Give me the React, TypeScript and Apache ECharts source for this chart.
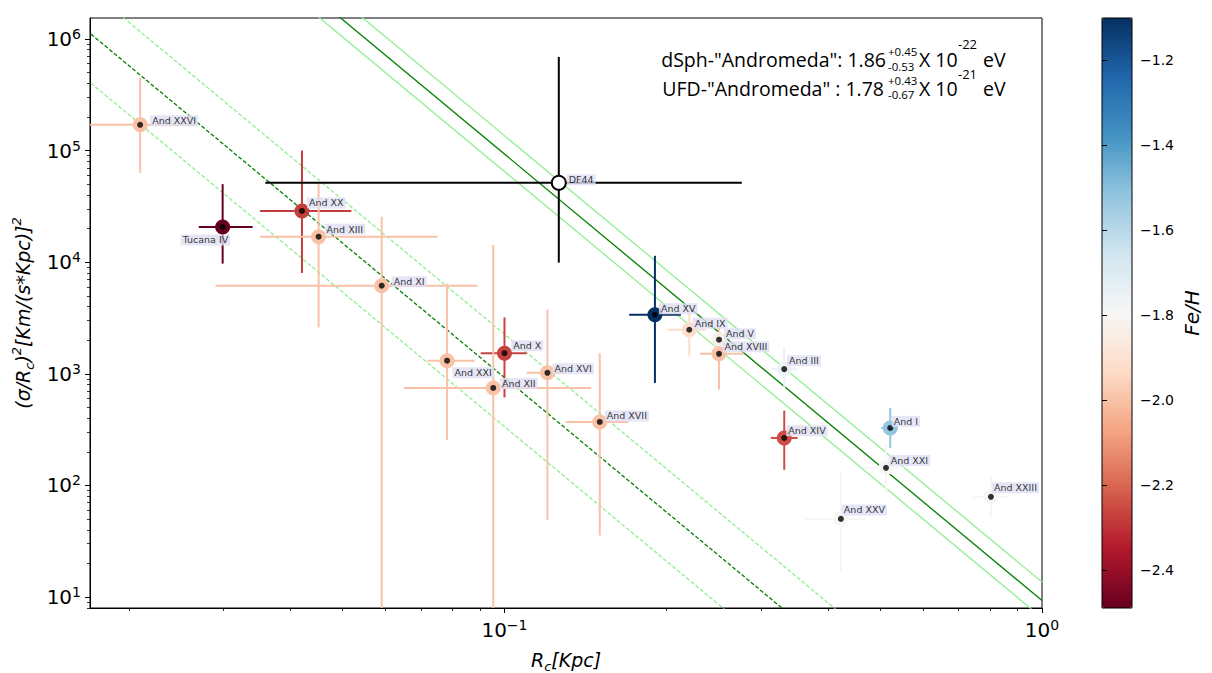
import React, { useEffect, useRef } from 'react';
import * as echarts from 'echarts';

// ---------- data ----------
const names = ['And XXVI', 'Tucana IV', 'And XX', 'And XIII', 'And XI', 'And XXI', 'And X', 'And XII', 'And XVI', 'And XVII', 'DF44', 'And XV', 'And IX', 'And V', 'And XVIII', 'And III', 'And XIV', 'And I', 'And XXI', 'And XXV', 'And XXIII'];
const rc = [0.0210, 0.0299, 0.0420, 0.0451, 0.0591, 0.0782, 0.1000, 0.0953, 0.1202, 0.1504, 0.1262, 0.1905, 0.2207, 0.2507, 0.2507, 0.3315, 0.3315, 0.5220, 0.5126, 0.4225, 0.8036];
const rcLo = [0.0152, 0.0270, 0.0351, 0.0351, 0.0290, 0.0719, 0.0903, 0.0650, 0.1100, 0.1300, 0.0359, 0.1706, 0.2010, 0.2430, 0.2310, 0.3130, 0.3130, 0.5020, 0.4637, 0.3626, 0.7461];
const rcHi = [0.0267, 0.0340, 0.0519, 0.0750, 0.0890, 0.0880, 0.1100, 0.1450, 0.1300, 0.1700, 0.2764, 0.2130, 0.2370, 0.2590, 0.2790, 0.3510, 0.3510, 0.5390, 0.5540, 0.4705, 0.8634];
const sig = [1.70e5, 2.07e4, 2.88e4, 1.69e4, 6.15e3, 1.31e3, 1.53e3, 747, 1.02e3, 370, 5.14e4, 3.38e3, 2.48e3, 2.02e3, 1.51e3, 1.10e3, 266, 327, 143.6, 50.1, 78.9];
const sigLo = [6.3e4, 9.7e3, 8.0e3, 2.6e3, 1.0, 254, 615, 1.0, 49, 35.6, 9.9e3, 828, 1.43e3, 1.7e3, 721, 747, 138, 217, 85.7, 16.5, 51.2];
const sigHi = [4.5e5, 5.0e4, 1.0e5, 5.0e4, 2.55e4, 6.4e3, 3.2e3, 1.43e4, 3.75e3, 1.53e3, 6.9e5, 1.14e4, 4.0e3, 2.45e3, 2.6e3, 1.74e3, 468, 494, 232, 133.6, 121];
const feh: (number | null)[] = [-2.0, -2.49, -2.28, -2.0, -2.0, -2.0, -2.27, -2.0, -2.0, -2.0, null, -1.10, -1.92, -1.84, -2.0, -1.75, -2.25, -1.52, -1.79, -1.80, -1.80];

// fitted lines (two points each)
const dsphFit = [[0.03, 1.148e7], [1.0, 9.3]];
const dsphUp = [[0.03, 1.679e7], [1.0, 13.6]];
const dsphLow = [[0.03, 8.02e6], [1.0, 6.5]];
const ufdFit = [[0.017, 1.106e6], [0.5, 1.48]];
const ufdUp = [[0.017, 2.705e6], [0.5, 3.62]];
const ufdLow = [[0.017, 4.02e5], [0.5, 0.538]];

// ticks
const xMajor = [0.1, 1];
const xMinor = [0.02, 0.03, 0.04, 0.05, 0.06, 0.07, 0.08, 0.09, 0.2, 0.3, 0.4, 0.5, 0.6, 0.7, 0.8, 0.9];
const yMajor = [10, 100, 1000, 1e4, 1e5, 1e6];
const yMinor = [8, 9, 20, 30, 40, 50, 60, 70, 80, 90, 200, 300, 400, 500, 600, 700, 800, 900, 2000, 3000, 4000, 5000, 6000, 7000, 8000, 9000, 2e4, 3e4, 4e4, 5e4, 6e4, 7e4, 8e4, 9e4, 2e5, 3e5, 4e5, 5e5, 6e5, 7e5, 8e5, 9e5];
const cbTicks = [-2.4, -2.2, -2.0, -1.8, -1.6, -1.4, -1.2];

// ---------- layout / style ----------
const labelOffset: number[][] = [[10, -4], [-42, 13], [5, -8], [6, -7.5], [10, -4], [5.4, 12], [6.7, -7.5], [6.7, -4.3], [5, -4], [5, -6], [8, -3], [4, -6], [3.4, -6.5], [5, -6], [3.4, -7], [2.7, -8.3], [2, -7.3], [1.4, -6.6], [2.7, -7.3], [1, -9], [1, -9]];
const RDBU = ['#67001f', '#b2182b', '#d6604d', '#f4a582', '#fddbc7', '#f7f7f7', '#d1e5f0', '#92c5de', '#4393c3', '#2166ac', '#053061'];
const FEH_MIN = -2.49;
const FEH_MAX = -1.10;
const G = { left: 90, top: 18, width: 952, height: 590 };
const CB = { left: 1102, top: 18, width: 30, height: 590 };
const FONT = 'DejaVu Sans';
const DOT = 6;

const powLabel = (v: number) => {
  const e = Math.round(Math.log10(v));
  return `{b|10}{s|${e < 0 ? '\u2212' + (-e) : e}}`;
};
const tickRich = {
  b: { fontSize: 20, lineHeight: 24, fontFamily: FONT, color: '#000' },
  s: { fontSize: 14, lineHeight: 14, verticalAlign: 'top', fontFamily: FONT, color: '#000' },
};
const nameRich = {
  sub: { fontSize: 13, lineHeight: 13, verticalAlign: 'bottom', fontStyle: 'italic', fontFamily: FONT, color: '#000' },
  sup: { fontSize: 13, lineHeight: 13, verticalAlign: 'top', fontFamily: FONT, color: '#000' },
};

const txt = (text: string, x: number, y: number, size: number, align = 'left') => ({
  type: 'text',
  x,
  y,
  z: 50,
  style: {
    text,
    fontSize: size,
    fontFamily: 'Open Sans',
    fill: '#000',
    align,
    textAlign: align,
    verticalAlign: 'middle',
    textVerticalAlign: 'middle',
  },
});

export default function App() {
  const ref = useRef<HTMLDivElement>(null);
  useEffect(() => {
    const chart = echarts.init(ref.current!, null, { renderer: 'svg' });
    const idx = names.map((_, i) => i);
    const colored = idx.filter((i) => feh[i] !== null);
    const plain = idx.filter((i) => feh[i] === null);
    const errData = colored.map((i) => [rc[i], sig[i], feh[i], rcLo[i], rcHi[i], sigLo[i], sigHi[i]]);
    const errPlain = plain.map((i) => [rc[i], sig[i], 0, rcLo[i], rcHi[i], sigLo[i], sigHi[i]]);
    const circleData = colored.map((i) => [rc[i], sig[i], feh[i]]);
    const plainCircle = plain.map((i) => [rc[i], sig[i]]);
    const dotData = idx.map((i) => ({
      name: names[i],
      value: [rc[i], sig[i]],
      itemStyle: feh[i] === null ? { color: 'rgba(0,0,0,0)' } : { color: '#000' },
      label: { position: [DOT / 2 + labelOffset[i][0], DOT / 2 + labelOffset[i][1]] },
    }));

    const renderErr = (params: any, api: any) => {
      const x = api.value(0);
      const y = api.value(1);
      const c = api.coord([x, y]);
      const l = api.coord([api.value(3), y]);
      const r = api.coord([api.value(4), y]);
      const b = api.coord([x, api.value(5)]);
      const t = api.coord([x, api.value(6)]);
      const color = api.visual('color');
      return {
        type: 'group',
        children: [
          { type: 'line', shape: { x1: l[0], y1: c[1], x2: r[0], y2: c[1] }, style: { stroke: color, lineWidth: 2 } },
          { type: 'line', shape: { x1: c[0], y1: t[1], x2: c[0], y2: b[1] }, style: { stroke: color, lineWidth: 2 } },
        ],
      };
    };

    const fitLine = (data: number[][], color: string, dashed: boolean) => ({
      type: 'line',
      xAxisIndex: 0,
      yAxisIndex: 0,
      data,
      symbol: 'none',
      clip: true,
      z: 1,
      silent: true,
      lineStyle: { color, width: 1.3, type: dashed ? [4, 2] : 'solid' },
    });

    const option: any = {
      animation: false,
      backgroundColor: '#fff',
      grid: [
        { ...G, show: true, borderColor: '#000', borderWidth: 1, backgroundColor: 'transparent', containLabel: false, outerBoundsMode: 'none' },
        { ...CB, show: false, containLabel: false, outerBoundsMode: 'none' },
      ],
      xAxis: [
        {
          gridIndex: 0, type: 'log', logBase: 10, min: 0.01694, max: 1, position: 'bottom',
          axisLine: { show: true, lineStyle: { color: '#000', width: 1 } },
          axisTick: { show: true, inside: false, length: 5, customValues: xMajor, lineStyle: { color: '#000', width: 1 } },
          axisLabel: { show: true, customValues: xMajor, formatter: powLabel, rich: tickRich, margin: 10 },
          splitLine: { show: false },
          name: 'R{sub|c}[Kpc]', nameLocation: 'middle', nameGap: 39,
          nameTextStyle: { fontSize: 19, fontStyle: 'italic', fontFamily: FONT, color: '#000', lineHeight: 26, rich: nameRich },
        },
        {
          gridIndex: 0, type: 'log', logBase: 10, min: 0.01694, max: 1, position: 'bottom',
          axisLine: { show: false },
          axisTick: { show: true, inside: false, length: 3, customValues: xMinor, lineStyle: { color: '#000', width: 0.8 } },
          axisLabel: { show: false },
          splitLine: { show: false },
        },
        { gridIndex: 1, type: 'value', show: false, min: 0, max: 1 },
      ],
      yAxis: [
        {
          gridIndex: 0, type: 'log', logBase: 10, min: 7.97, max: 1.54e6, position: 'left',
          axisLine: { show: true, lineStyle: { color: '#000', width: 1 } },
          axisTick: { show: true, inside: false, length: 5, customValues: yMajor, lineStyle: { color: '#000', width: 1 } },
          axisLabel: { show: true, customValues: yMajor, formatter: powLabel, rich: tickRich, margin: 9 },
          splitLine: { show: false },
          name: '(σ/R{sub|c}){sup|2}[Km/(s*Kpc)]{sup|2}', nameLocation: 'middle', nameGap: 50, nameRotate: 90,
          nameTextStyle: { fontSize: 19, fontStyle: 'italic', fontFamily: FONT, color: '#000', lineHeight: 26, rich: nameRich },
        },
        {
          gridIndex: 0, type: 'log', logBase: 10, min: 7.97, max: 1.54e6, position: 'left',
          axisLine: { show: false },
          axisTick: { show: true, inside: false, length: 3, customValues: yMinor, lineStyle: { color: '#000', width: 0.8 } },
          axisLabel: { show: false },
          splitLine: { show: false },
        },
        {
          gridIndex: 1, type: 'value', min: FEH_MIN, max: FEH_MAX, position: 'right', z: 10,
          axisLine: { show: false },
          axisTick: { show: true, inside: false, length: 5, customValues: cbTicks, lineStyle: { color: '#000', width: 1 } },
          axisLabel: {
            show: true, customValues: cbTicks, margin: 8, fontSize: 14, fontFamily: FONT, color: '#000',
            formatter: (v: number) => v.toFixed(1).replace('-', '\u2212'),
          },
          splitLine: { show: false },
          name: 'Fe/H', nameLocation: 'middle', nameGap: 50, nameRotate: 90,
          nameTextStyle: { fontSize: 20, fontStyle: 'italic', fontFamily: FONT, color: '#000' },
        },
      ],
      visualMap: [
        {
          type: 'continuous', min: FEH_MIN, max: FEH_MAX, dimension: 2, seriesIndex: [6, 8],
          calculable: false, hoverLink: false, orient: 'vertical',
          left: CB.left, top: CB.top, itemWidth: CB.width, itemHeight: CB.height, padding: 0,
          text: null, showLabel: false,
          inRange: { color: RDBU },
        },
      ],
      graphic: [
        { type: 'rect', z: 60, shape: { x: CB.left, y: CB.top, width: CB.width, height: CB.height }, style: { fill: 'none', stroke: '#000', lineWidth: 1 } },
        txt('dSph-"Andromeda": 1.86', 886, 59.5, 19.5, 'right'),
        txt('+0.45', 888, 51.5, 11.5),
        txt('-0.53', 888, 66, 11.5),
        txt('X 10', 919, 59.5, 19.5),
        txt('-22', 958, 44, 13),
        txt('eV', 983, 59.5, 19.5),
        txt('UFD-"Andromeda" : 1.78', 884, 88.5, 19.5, 'right'),
        txt('+0.43', 888, 80, 11.5),
        txt('-0.67', 888, 94, 11.5),
        txt('X 10', 919, 88.5, 19.5),
        txt('-21', 958, 73.5, 13),
        txt('eV', 983, 88.5, 19.5),
      ],
      series: [
        fitLine(ufdUp, '#90ee90', true),
        fitLine(ufdLow, '#90ee90', true),
        fitLine(ufdFit, '#008000', true),
        fitLine(dsphUp, '#90ee90', false),
        fitLine(dsphLow, '#90ee90', false),
        fitLine(dsphFit, '#008000', false),
        {
          type: 'custom', xAxisIndex: 0, yAxisIndex: 0, data: errData, renderItem: renderErr,
          encode: { x: 0, y: 1 }, clip: true, z: 2, silent: true,
        },
        {
          type: 'custom', xAxisIndex: 0, yAxisIndex: 0, data: errPlain, renderItem: renderErr,
          encode: { x: 0, y: 1 }, clip: true, z: 2, silent: true, itemStyle: { color: '#000' },
        },
        {
          type: 'scatter', xAxisIndex: 0, yAxisIndex: 0, data: circleData, symbolSize: 15, z: 3, silent: true,
          itemStyle: { opacity: 1 },
        },
        {
          type: 'scatter', xAxisIndex: 0, yAxisIndex: 0, data: plainCircle, symbolSize: 14, z: 3, silent: true,
          itemStyle: { color: '#fff', borderColor: '#000', borderWidth: 2, opacity: 1 },
        },
        {
          type: 'scatter', xAxisIndex: 0, yAxisIndex: 0, data: dotData, symbolSize: DOT, z: 4, silent: true,
          label: {
            show: true, formatter: '{b}', align: 'left', verticalAlign: 'middle',
            fontSize: 9.5, lineHeight: 11, fontFamily: FONT, color: '#000',
            backgroundColor: '#dedef3', padding: [0, 2, 0, 2],
          },
        },
      ],
    };
    chart.setOption(option);
    return () => chart.dispose();
  }, []);
  return <div ref={ref} style={{ position: 'fixed', left: 0, top: 0, width: 1212, height: 673, background: '#fff' }} />;
}
